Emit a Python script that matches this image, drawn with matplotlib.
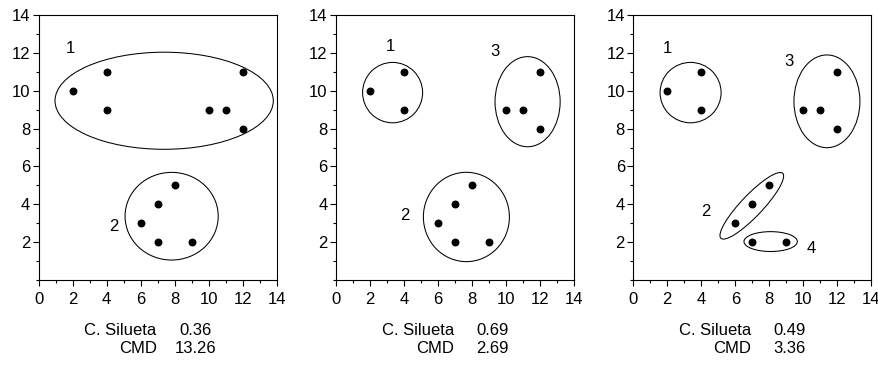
import matplotlib
matplotlib.use("Agg")
import matplotlib.pyplot as plt
from matplotlib.patches import Ellipse
from matplotlib.ticker import MultipleLocator

plt.rcParams["font.family"] = ["Liberation Sans"]

# points (same in all three panels)
px = [2, 4, 4, 10, 11, 12, 12, 6, 7, 8, 7, 9]
py = [10, 11, 9, 9, 9, 11, 8, 3, 4, 5, 2, 2]

# cluster ellipses per panel: (cx, cy, width, height, angle)
ellipses_k2 = [(7.38, 9.47, 12.84, 5.13, 0), (7.82, 3.37, 5.48, 4.63, 0)]
ellipses_k3 = [(3.33, 9.9, 3.53, 3.19, 0), (7.67, 3.33, 5.06, 4.72, 0),
               (11.27, 9.42, 3.83, 4.76, 0)]
ellipses_k4 = [(3.37, 9.9, 3.59, 3.19, 0), (6.97, 3.92, 5.0, 1.2, 43),
               (11.39, 9.44, 3.88, 4.9, 0), (8.08, 2.03, 3.14, 1.05, 0)]

# cluster label text positions
labels_k2 = [("1", 1.88, 12.24), ("2", 4.43, 2.82)]
labels_k3 = [("1", 3.18, 12.33), ("2", 4.02, 3.43), ("3", 9.35, 12.06)]
labels_k4 = [("1", 2.0, 12.24), ("2", 4.28, 3.61), ("3", 9.18, 11.53), ("4", 10.49, 1.67)]

silueta = ["0.36", "0.69", "0.49"]
cmd = ["13.26", "2.69", "3.36"]

panels = [(ellipses_k2, labels_k2), (ellipses_k3, labels_k3), (ellipses_k4, labels_k4)]
lefts = [38.7, 336.0, 633.3]

W, H = 879, 369
fig = plt.figure(figsize=(W / 100, H / 100), dpi=100)

fs = 12
for i, (ells, labs) in enumerate(panels):
    ax = fig.add_axes([lefts[i] / W, 89 / H, 238 / W, 265 / H])
    ax.scatter(px, py, s=22, color="black", zorder=3)
    for cx, cy, w, h, ang in ells:
        ax.add_patch(Ellipse((cx, cy), w, h, angle=ang, fill=False,
                             edgecolor="black", linewidth=0.75))
    for t, x, y in labs:
        ax.text(x, y, t, fontsize=fs, ha="center", va="center")
    ax.set_xlim(0, 14)
    ax.set_ylim(0, 14)
    ax.xaxis.set_major_locator(MultipleLocator(2))
    ax.xaxis.set_minor_locator(MultipleLocator(1))
    ax.yaxis.set_major_locator(MultipleLocator(2))
    ax.yaxis.set_minor_locator(MultipleLocator(1))
    ax.set_yticks(range(2, 15, 2))
    ax.tick_params(which="major", direction="out", length=4, width=0.8,
                   labelsize=fs, pad=2)
    ax.tick_params(which="minor", direction="out", length=2.5, width=0.8)
    ax.tick_params(axis="x", which="major", pad=5)
    for sp in ax.spines.values():
        sp.set_linewidth(0.8)

    ax.text(0.495, -0.189, "C. Silueta", transform=ax.transAxes,
            ha="right", va="center", fontsize=fs)
    ax.text(0.657, -0.189, silueta[i], transform=ax.transAxes,
            ha="center", va="center", fontsize=fs)
    ax.text(0.495, -0.257, "CMD", transform=ax.transAxes,
            ha="right", va="center", fontsize=fs)
    ax.text(0.657, -0.257, cmd[i], transform=ax.transAxes,
            ha="center", va="center", fontsize=fs)

fig.savefig("out.png", dpi=100)
